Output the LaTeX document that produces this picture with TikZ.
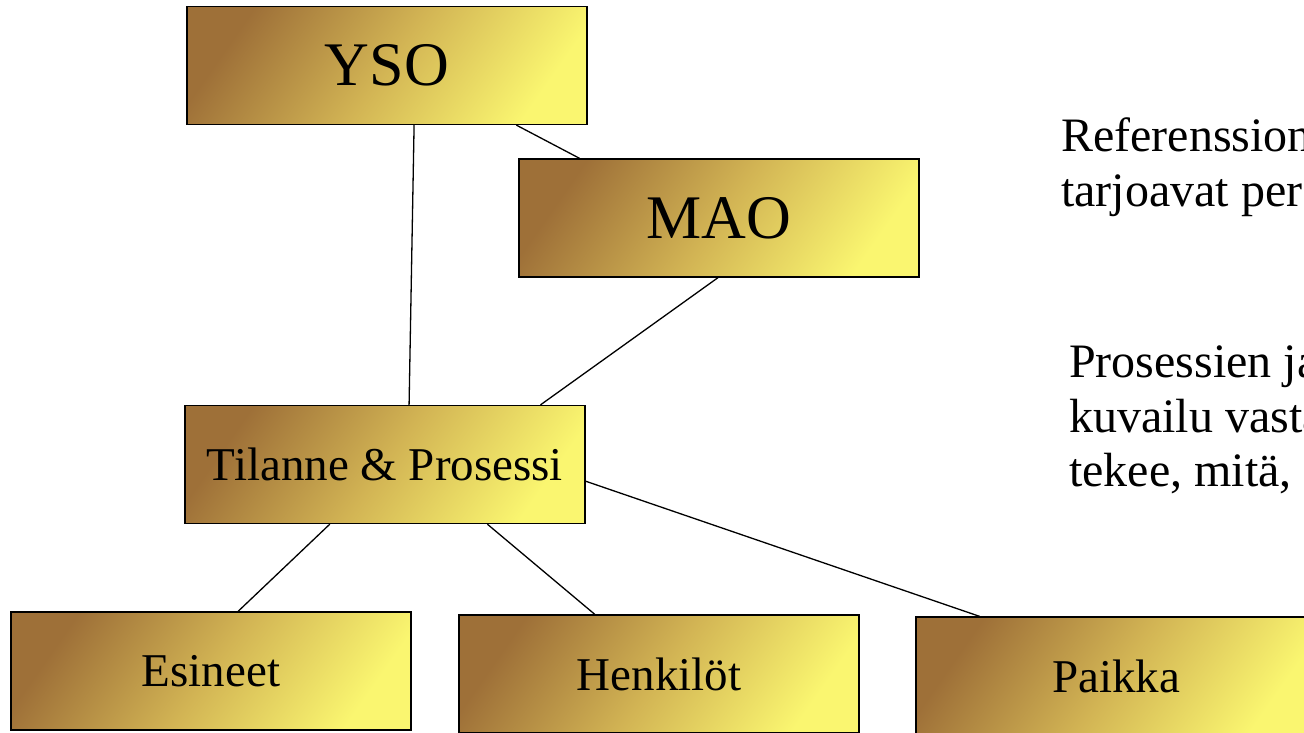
\documentclass[tikz,border=0pt]{standalone}
\usepackage{fontspec}
\setmainfont{Liberation Serif}
\usetikzlibrary{calc}
\definecolor{brownc}{RGB}{158,112,56}
\definecolor{goldc}{RGB}{210,180,84}
\definecolor{yellowc}{RGB}{250,246,112}
\tikzset{
  box/.style={draw=black, line width=1.3pt, minimum width=400pt, minimum height=118pt,
    inner sep=0pt, left color=brownc, right color=yellowc, middle color=goldc, shading angle=55},
  big/.style={font=\fontsize{62pt}{70pt}\selectfont},
  small/.style={font=\fontsize{47pt}{54pt}\selectfont},
  conn/.style={draw=black, line width=1.3pt},
  side/.style={font=\fontsize{48pt}{54pt}\selectfont, anchor=base west, inner sep=0pt}
}
\begin{document}
\begin{tikzpicture}[x=1pt,y=-1pt]
\useasboundingbox (0,0) rectangle (1304,733);
\clip (0,0) rectangle (1304,733);
\node[box,big] (yso) at (387,65.5) {YSO};
\node[box,big] (mao) at (719,218) {MAO};
\node[box,small] (til) at (385,464.5) {Tilanne \& Prosessi};
\node[box,small] (esi) at (211,671) {Esineet};
\node[box,small] (hen) at (659,674) {Henkilöt};
\node[box,small] (pai) at (1116,676) {Paikka};
\draw[conn] ($(yso.south west)!0.5675!(yso.south east)$) -- ($(til.north west)!0.56!(til.north east)$);
\draw[conn] ($(yso.south west)!0.8225!(yso.south east)$) -- ($(mao.north west)!0.1525!(mao.north east)$);
\draw[conn] ($(mao.south west)!0.4975!(mao.south east)$) -- ($(til.north west)!0.8875!(til.north east)$);
\draw[conn] ($(til.south west)!0.3625!(til.south east)$) -- ($(esi.north west)!0.5675!(esi.north east)$);
\draw[conn] ($(til.south west)!0.755!(til.south east)$) -- ($(hen.north west)!0.34!(hen.north east)$);
\draw[conn] ($(til.north east)!0.64!(til.south east)$) -- ($(pai.north west)!0.16!(pai.north east)$);
\node[side] (r1) at (1061,152) {Referenssion};
\node[side] (r2) at (1061,206) {tarjoavat per};
\node[side] (p1) at (1069,377) {Prosessien ja};
\node[side] (p2) at (1069,432) {kuvailu vasta};
\node[side] (p3) at (1069,486) {tekee, mitä,};
\end{tikzpicture}
\end{document}
